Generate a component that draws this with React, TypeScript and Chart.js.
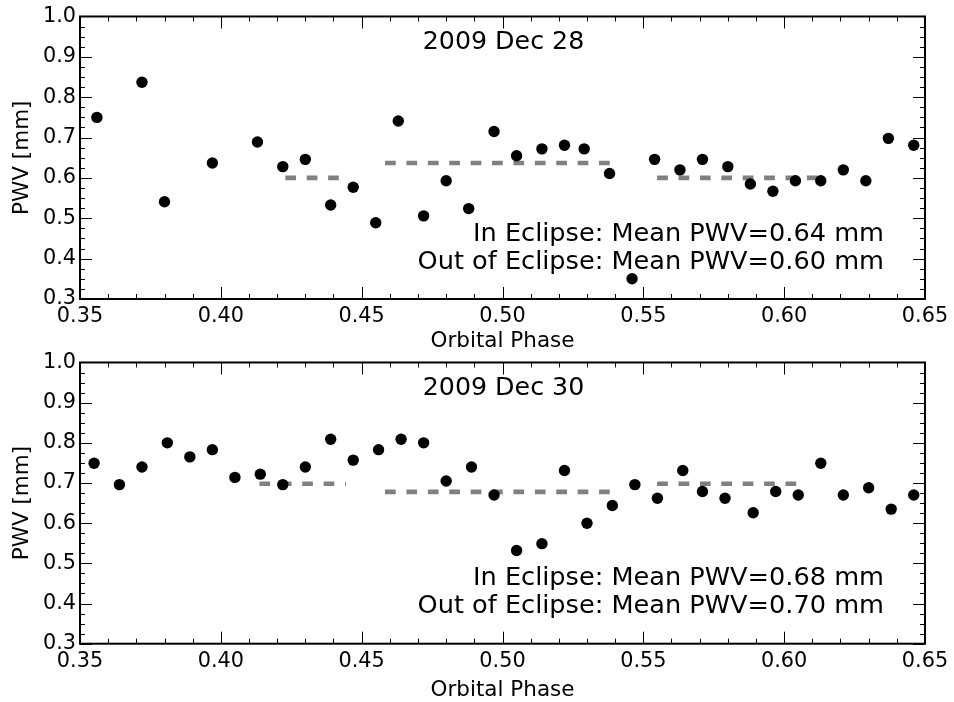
import React, { useEffect, useRef } from "react";
import { Chart, registerables } from "chart.js";

Chart.register(...registerables);

// ---------- data ----------
const dec28Phase = [0.356, 0.372, 0.380, 0.397, 0.413, 0.422, 0.430, 0.439, 0.447, 0.455, 0.463, 0.472, 0.480, 0.488, 0.497, 0.505, 0.514, 0.522, 0.529, 0.538, 0.546, 0.554, 0.563, 0.571, 0.580, 0.588, 0.596, 0.604, 0.613, 0.621, 0.629, 0.637, 0.646];
const dec28Pwv = [0.750, 0.837, 0.541, 0.637, 0.689, 0.628, 0.646, 0.533, 0.577, 0.489, 0.741, 0.506, 0.593, 0.524, 0.715, 0.655, 0.672, 0.681, 0.672, 0.611, 0.350, 0.646, 0.620, 0.646, 0.628, 0.585, 0.567, 0.593, 0.593, 0.620, 0.593, 0.698, 0.681];

const dec30Phase = [0.355, 0.364, 0.372, 0.381, 0.389, 0.397, 0.405, 0.414, 0.422, 0.430, 0.439, 0.447, 0.456, 0.464, 0.472, 0.480, 0.489, 0.497, 0.505, 0.514, 0.522, 0.530, 0.539, 0.547, 0.555, 0.564, 0.571, 0.579, 0.589, 0.597, 0.605, 0.613, 0.621, 0.630, 0.638, 0.646];
const dec30Pwv = [0.749, 0.696, 0.740, 0.800, 0.765, 0.783, 0.714, 0.722, 0.696, 0.740, 0.809, 0.757, 0.783, 0.809, 0.800, 0.705, 0.740, 0.670, 0.532, 0.549, 0.731, 0.600, 0.644, 0.696, 0.662, 0.731, 0.679, 0.662, 0.626, 0.679, 0.670, 0.749, 0.670, 0.688, 0.635, 0.670];

// mean-PWV segments: [startPhase, endPhase, value]
const dec28OutA = [0.4229, 0.4421, 0.60];
const dec28In = [0.4583, 0.5401, 0.637];
const dec28OutB = [0.5549, 0.6132, 0.60];

const dec30OutA = [0.4137, 0.4444, 0.698];
const dec30In = [0.4583, 0.5401, 0.678];
const dec30OutB = [0.5549, 0.6055, 0.698];

const dec28Texts = ["2009 Dec 28", "In Eclipse: Mean PWV=0.64 mm", "Out of Eclipse: Mean PWV=0.60 mm"];
const dec30Texts = ["2009 Dec 30", "In Eclipse: Mean PWV=0.68 mm", "Out of Eclipse: Mean PWV=0.70 mm"];

const xMin = 0.35, xMax = 0.65, xStep = 0.05, xMinorStep = 0.01;
const yMin = 0.3, yMax = 1.0, yStep = 0.1, yMinorStep = 0.025;
const xTitle = "Orbital Phase";
const yTitle = "PWV [mm]";

const FONT = '"DejaVu Sans", "Liberation Sans", sans-serif';

function segment(s: number[]) {
  return [{ x: s[0], y: s[2] }, { x: s[1], y: s[2] }];
}

const framePlugin = {
  id: "mplFrame",
  afterDatasetsDraw(chart: any, _args: any, opts: any) {
    const { ctx, chartArea, scales } = chart;
    const { left, right, top, bottom } = chartArea;
    const xs = scales.x, ys = scales.y;
    ctx.save();
    ctx.strokeStyle = "#000";
    ctx.lineWidth = 1;
    ctx.beginPath();
    const nx = Math.round((xMax - xMin) / xMinorStep);
    const perMajorX = Math.round(xStep / xMinorStep);
    for (let i = 0; i <= nx; i++) {
      const px = Math.round(xs.getPixelForValue(xMin + i * xMinorStep)) + 0.5;
      const len = i % perMajorX === 0 ? 12 : 5;
      ctx.moveTo(px, bottom); ctx.lineTo(px, bottom - len);
      ctx.moveTo(px, top); ctx.lineTo(px, top + len);
    }
    const ny = Math.round((yMax - yMin) / yMinorStep);
    const perMajorY = Math.round(yStep / yMinorStep);
    for (let i = 0; i <= ny; i++) {
      const py = Math.round(ys.getPixelForValue(yMin + i * yMinorStep)) + 0.5;
      const len = i % perMajorY === 0 ? 12 : 5;
      ctx.moveTo(left, py); ctx.lineTo(left + len, py);
      ctx.moveTo(right, py); ctx.lineTo(right - len, py);
    }
    ctx.stroke();
    ctx.lineWidth = 2;
    ctx.strokeRect(left, top, right - left, bottom - top);

    const texts: string[] = opts.texts;
    ctx.fillStyle = "#000";
    ctx.textBaseline = "middle";
    ctx.textAlign = "center";
    ctx.font = `25.3px ${FONT}`;
    ctx.fillText(texts[0], (left + right) / 2 + 1, top + 26);
    ctx.font = `25.6px ${FONT}`;
    ctx.textAlign = "right";
    ctx.fillText(texts[1], right - 41, bottom - 65);
    ctx.fillText(texts[2], right - 41, bottom - 37);
    ctx.restore();
  },
};

function Panel(props: { top: number; height: number; padTop: number; phase: number[]; pwv: number[]; segs: number[][]; texts: string[]; titlePadBottom: number }) {
  const ref = useRef<HTMLCanvasElement>(null);
  useEffect(() => {
    const canvas = ref.current!;
    const lineDs = props.segs.map((s) => ({
      type: "line" as const,
      data: segment(s),
      borderColor: "#808080",
      borderWidth: 4.6,
      borderDash: [10.7, 10.7],
      borderCapStyle: "butt" as const,
      pointRadius: 0,
      fill: false,
    }));
    const chart = new Chart(canvas, {
      type: "scatter",
      data: {
        datasets: [
          {
            data: props.phase.map((p, i) => ({ x: p, y: props.pwv[i] })),
            backgroundColor: "#000",
            borderWidth: 0,
            pointRadius: 5.7,
            pointHoverRadius: 5.7,
          } as any,
          ...lineDs,
        ],
      },
      options: {
        animation: false,
        responsive: false,
        events: [],
        layout: { padding: { left: 0, right: 29, top: props.padTop, bottom: 0 } },
        plugins: {
          legend: { display: false },
          tooltip: { enabled: false },
          mplFrame: { texts: props.texts },
        } as any,
        scales: {
          x: {
            type: "linear",
            min: xMin,
            max: xMax,
            grid: { display: false, drawTicks: false },
            border: { display: false },
            ticks: {
              stepSize: xStep,
              autoSkip: false,
              maxRotation: 0,
              padding: 5,
              color: "#000",
              font: { family: FONT, size: 20.8, lineHeight: 1.2 },
              callback: (v: any) => Number(v).toFixed(2),
            },
            title: {
              display: true,
              text: xTitle,
              color: "#000",
              font: { family: FONT, size: 21.5, lineHeight: 1.2 },
              padding: { top: 0, bottom: props.titlePadBottom },
            },
            afterFit: (scale: any) => { scale.height = props.height - props.padTop - 287; },
          },
          y: {
            type: "linear",
            min: yMin,
            max: yMax,
            grid: { display: false, drawTicks: false },
            border: { display: false },
            ticks: {
              stepSize: yStep,
              autoSkip: false,
              padding: 4,
              color: "#000",
              font: { family: FONT, size: 20.8, lineHeight: 1.2 },
              callback: (v: any) => Number(v).toFixed(1),
            },
            title: {
              display: true,
              text: yTitle,
              color: "#000",
              font: { family: FONT, size: 21.5, lineHeight: 1.2 },
              padding: { top: 9.5, bottom: 0 },
            },
            afterFit: (scale: any) => { scale.width = 80; },
          },
        },
      },
      plugins: [framePlugin as any],
    });
    return () => chart.destroy();
  }, []);
  return (
    <canvas
      ref={ref}
      width={954}
      height={props.height}
      style={{ position: "absolute", left: 0, top: props.top, width: 954, height: props.height, display: "block" }}
    />
  );
}

export default function App() {
  return (
    <div style={{ position: "fixed", left: 0, top: 0, width: 954, height: 702, background: "#fff", overflow: "hidden" }}>
      <Panel top={0} height={356} padTop={12} phase={dec28Phase} pwv={dec28Pwv} segs={[dec28OutA, dec28In, dec28OutB]} texts={dec28Texts} titlePadBottom={1.4} />
      <Panel top={346} height={356} padTop={10.7} phase={dec30Phase} pwv={dec30Pwv} segs={[dec30OutA, dec30In, dec30OutB]} texts={dec30Texts} titlePadBottom={-0.9} />
    </div>
  );
}
